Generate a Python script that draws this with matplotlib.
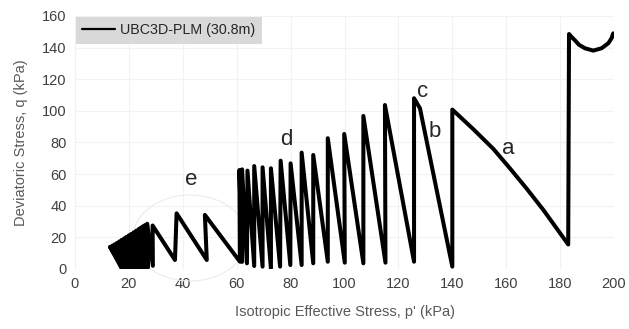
import matplotlib
matplotlib.use("Agg")
import matplotlib.pyplot as plt
from matplotlib.patches import Ellipse

plt.rcParams['font.family'] = ['Liberation Sans', 'DejaVu Sans']

# Stress path of the UBC3D-PLM element at 30.8 m, listed in loading order
# (starts at the right, moves left as p' degrades).
tail_p = [199.7, 199.1, 197.9, 195.4, 192.3, 189.2, 187.0, 185.5, 184.2, 183.3]
tail_q = [149.0, 146.0, 142.8, 139.6, 138.1, 139.6, 141.8, 144.6, 146.8, 148.6]

# first unloading branch "a" (curved)
branch_a_p = [183.0, 178.7, 173.8, 167.6, 161.4, 155.2, 147.8, 140.0]
branch_a_q = [15.5, 25.7, 37.3, 50.8, 63.6, 76.0, 88.4, 100.8]

# cycle peaks and troughs after branch "a"
peak_p = [140.0, 125.8, 115.0, 107.0, 99.9, 93.8, 88.4, 84.1, 80.0, 76.3,
          72.7, 69.6, 66.5, 64.0, 62.0, 61.0, 48.2, 37.7, 28.8,
          26.8, 26.0, 25.2, 24.4, 23.6, 22.7, 21.8, 20.9, 20.0, 19.1,
          18.2, 17.3, 16.4, 15.5, 14.6, 13.8, 13.0]
peak_q = [100.8, 108.0, 103.7, 96.8, 85.4, 82.7, 72.1, 73.6, 66.8, 68.5,
          63.7, 64.3, 65.1, 62.2, 63.0, 62.6, 34.2, 35.2, 27.5,
          28.6, 27.8, 27.0, 26.1, 25.2, 24.2, 23.2, 22.2, 21.3, 20.3,
          19.3, 18.4, 17.4, 16.4, 15.5, 14.7, 14.0]
trough_p = [140.0, 125.8, 115.2, 107.0, 100.1, 93.8, 88.4, 84.1, 79.9, 76.1,
            72.7, 69.6, 66.5, 63.8, 62.0, 61.2, 48.9, 37.1, 28.9,
            27.0, 26.5, 25.9, 25.3, 24.7, 24.1, 23.5, 22.9, 22.3, 21.7,
            21.1, 20.5, 19.9, 19.3, 18.7, 18.0, 17.3]
trough_q = [1.5, 4.6, 4.0, 3.6, 4.0, 4.6, 3.6, 2.5, 2.5, 1.5,
            0.4, 1.5, 1.9, 3.6, 4.5, 4.6, 5.7, 5.7, 2.0,
            0.8, 0.5, 0.8, 0.4, 0.6, 0.5, 0.7, 0.4, 0.6, 0.5,
            0.7, 0.4, 0.6, 0.5, 0.7, 0.5, 0.5]

# small bend just below peak "c" on branch "b"
bend_b = (128.0, 101.6)

path_p = list(tail_p) + list(branch_a_p[:-1])
path_q = list(tail_q) + list(branch_a_q[:-1])
for i, (pp, pq, tp, tq) in enumerate(zip(peak_p, peak_q, trough_p, trough_q)):
    if i == 1:
        path_p.append(bend_b[0])
        path_q.append(bend_b[1])
    path_p += [pp, tp]
    path_q += [pq, tq]

fig = plt.figure(figsize=(6.29, 3.29), dpi=100)
ax = fig.add_axes([0.1192, 0.1824, 0.857, 0.769])

ax.plot(path_p, path_q, color='black', lw=2.9, solid_joinstyle='round',
        solid_capstyle='round', label='UBC3D-PLM (30.8m)', zorder=3)

ax.add_patch(Ellipse((42.7, 19.6), 42.3, 54.4, fill=False, ec='#ececec',
                     lw=0.8, clip_on=False, zorder=1))

for txt, x, y in [('a', 160.7, 76.5), ('b', 133.6, 86.8), ('c', 129.0, 112.0),
                  ('d', 78.3, 82.0), ('e', 43.3, 56.3)]:
    ax.text(x, y, txt, fontsize=16, color='#262626', ha='center', va='center',
            zorder=4)

ax.set_xlim(0, 200)
ax.set_ylim(0, 160)
ax.set_xticks(range(0, 201, 20))
ax.set_yticks(range(0, 161, 20))
ax.grid(True, color='#f2f2f2', lw=0.8, zorder=0)
ax.set_axisbelow(True)
for s in ax.spines.values():
    s.set_visible(False)
ax.tick_params(length=0, labelsize=10.5, labelcolor='#404040', pad=6)

ax.set_xlabel("Isotropic Effective Stress, p' (kPa)", fontsize=10.5,
              color='#595959', labelpad=10)
ax.set_ylabel("Deviatoric Stress, q (kPa)", fontsize=10.5, color='#595959',
              labelpad=10)

leg = ax.legend(loc='upper left', bbox_to_anchor=(0.0, 1.0), frameon=True,
                fancybox=False, fontsize=10.3, handlelength=2.3,
                handletextpad=0.35, borderaxespad=0.05, borderpad=0.45)
leg.get_frame().set_facecolor('#d9d9d9')
leg.get_frame().set_edgecolor('none')
leg.get_frame().set_alpha(1)
for h in leg.get_lines():
    h.set_linewidth(1.6)
for t in leg.get_texts():
    t.set_color('#262626')

fig.savefig('out.png', dpi=100)
